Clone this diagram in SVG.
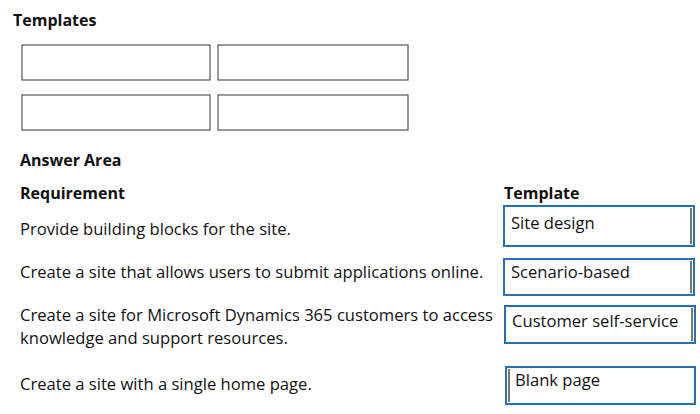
<svg xmlns="http://www.w3.org/2000/svg" width="700" height="414" viewBox="0 0 700 414">
<style>
text{font-family:"Open Sans","Noto Sans",sans-serif;fill:#111;font-size:16.6px}
.b{font-weight:bold;font-size:16px}
.t{fill:#fff;stroke:#555;stroke-width:1.2}
.a{fill:#fff;stroke:#2a6fb5;stroke-width:2}
.g{stroke:#777;stroke-width:2}
</style>
<rect width="700" height="414" fill="#fff"/>
<text class="b" x="13" y="26">Templates</text>
<g id="templates">
<rect class="t" x="22" y="45" width="188" height="35"/>
<rect class="t" x="218" y="45" width="190" height="35"/>
<rect class="t" x="22" y="95" width="188" height="35"/>
<rect class="t" x="218" y="95" width="190" height="35"/>
</g>
<text class="b" x="20" y="166">Answer Area</text>
<text class="b" x="20" y="199">Requirement</text>
<text class="b" x="504" y="199">Template</text>
<text x="20" y="235">Provide building blocks for the site.</text>
<text x="20" y="278">Create a site that allows users to submit applications online.</text>
<text x="20" y="321">Create a site for Microsoft Dynamics 365 customers to access</text>
<text x="20" y="344">knowledge and support resources.</text>
<text x="20" y="390">Create a site with a single home page.</text>
<g id="a1"><rect class="a" x="504" y="206" width="190" height="40"/><line class="g" x1="691" y1="208" x2="691" y2="244"/><text x="511" y="229">Site design</text></g>
<g id="a2"><rect class="a" x="504" y="259" width="190" height="36"/><line class="g" x1="691" y1="261" x2="691" y2="293"/><text x="511" y="278">Scenario-based</text></g>
<g id="a3"><rect class="a" x="505" y="306" width="190" height="37"/><line class="g" x1="692" y1="308" x2="692" y2="341"/><text x="512" y="327">Customer self-service</text></g>
<g id="a4"><rect class="a" x="506" y="367" width="189" height="37"/><line class="g" x1="509" y1="369" x2="509" y2="402"/><text x="515" y="386">Blank page</text></g>
</svg>
